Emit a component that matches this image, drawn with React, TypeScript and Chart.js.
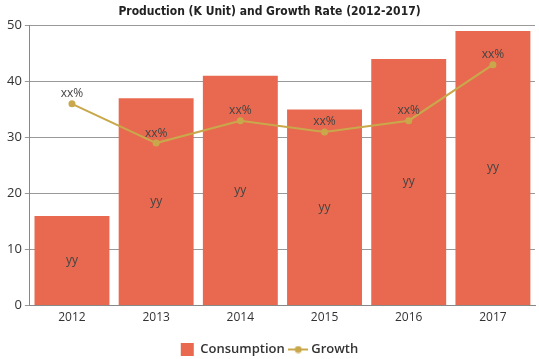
import React, { useEffect, useRef } from "react";
import { Chart, registerables } from "chart.js";

Chart.register(...registerables);

const categories = ["2012", "2013", "2014", "2015", "2016", "2017"];
const consumption = [16, 37, 41, 35, 44, 49];
const growth = [36, 29, 33, 31, 33, 43];
const barLabels = ["yy", "yy", "yy", "yy", "yy", "yy"];
const lineLabels = ["xx%", "xx%", "xx%", "xx%", "xx%", "xx%"];
const yTicks = [0, 10, 20, 30, 40, 50];

const BAR_COLOR = "#E8694F";
const LINE_COLOR = "#C9A84C";

const labelPlugin = {
  id: "valueLabels",
  afterDatasetsDraw(chart: any) {
    const ctx = chart.ctx;
    ctx.save();
    ctx.font = "12px 'Open Sans', sans-serif";
    ctx.fillStyle = "#444";
    ctx.textAlign = "center";
    ctx.textBaseline = "middle";
    const barMeta = chart.getDatasetMeta(0);
    barMeta.data.forEach((el: any, i: number) => {
      const y = (el.y + el.base) / 2;
      ctx.fillText(barLabels[i], el.x, y);
    });
    const lineMeta = chart.getDatasetMeta(1);
    ctx.textBaseline = "bottom";
    lineMeta.data.forEach((el: any, i: number) => {
      ctx.fillText(lineLabels[i], el.x, el.y - 4);
    });
    ctx.restore();
  },
};

function makeLineIcon(): HTMLCanvasElement {
  const c = document.createElement("canvas");
  c.width = 20;
  c.height = 8;
  const g = c.getContext("2d")!;
  g.strokeStyle = LINE_COLOR;
  g.lineWidth = 2;
  g.beginPath();
  g.moveTo(0, 4);
  g.lineTo(20, 4);
  g.stroke();
  g.fillStyle = LINE_COLOR;
  g.beginPath();
  g.arc(10, 4, 3.5, 0, Math.PI * 2);
  g.fill();
  return c;
}

export default function App() {
  const ref = useRef<HTMLCanvasElement>(null);
  useEffect(() => {
    document.body.style.margin = "0";
    const icon = makeLineIcon();
    const chart = new Chart(ref.current!, {
      type: "bar",
      data: {
        labels: categories,
        datasets: [
          {
            type: "bar",
            label: "Consumption",
            data: consumption,
            backgroundColor: BAR_COLOR,
            barPercentage: 0.89,
            categoryPercentage: 1,
            order: 2,
          } as any,
          {
            type: "line",
            label: "Growth",
            data: growth,
            borderColor: LINE_COLOR,
            backgroundColor: LINE_COLOR,
            borderWidth: 2,
            pointRadius: 3.5,
            pointHoverRadius: 3.5,
            pointBackgroundColor: LINE_COLOR,
            pointBorderWidth: 0,
            pointStyle: "circle",
            tension: 0,
            order: 1,
          } as any,
        ],
      },
      options: {
        animation: false,
        responsive: false,
        maintainAspectRatio: false,
        layout: { padding: { left: 4, right: 4, top: 0, bottom: -7 } },
        plugins: {
          title: {
            display: true,
            text: "Production (K Unit) and Growth Rate (2012-2017)",
            font: { family: "'DejaVu Sans Condensed', sans-serif", size: 12, weight: "bold" },
            color: "#222",
            padding: { top: 5, bottom: 6 },
          },
          legend: {
            position: "bottom",
            labels: {
              usePointStyle: true,
              boxHeight: 13,
              padding: 7,
              color: "#333",
              font: { family: "'Open Sans', sans-serif", size: 13, weight: "600" },
              generateLabels: () => [
                {
                  text: "Consumption",
                  fillStyle: BAR_COLOR,
                  strokeStyle: BAR_COLOR,
                  lineWidth: 0,
                  pointStyle: "rect",
                  datasetIndex: 0,
                  hidden: false,
                  fontColor: "#333",
                },
                {
                  text: "Growth",
                  fillStyle: LINE_COLOR,
                  strokeStyle: LINE_COLOR,
                  lineWidth: 0,
                  pointStyle: icon,
                  datasetIndex: 1,
                  hidden: false,
                  fontColor: "#333",
                },
              ],
            },
          },
          tooltip: { enabled: false },
        },
        scales: {
          x: {
            grid: { display: true, drawOnChartArea: false, drawTicks: false },
            border: { display: true, color: "#888" },
            ticks: { color: "#333", padding: 5, font: { family: "'Open Sans', sans-serif", size: 12 } },
            title: { display: true, text: "", font: { size: 5 }, padding: 0 },
          },
          y: {
            min: 0,
            max: 50,
            afterBuildTicks: (axis: any) => {
              axis.ticks = yTicks.map((v) => ({ value: v }));
            },
            grid: { color: "#999", tickLength: 5 },
            border: { display: true, color: "#888" },
            ticks: { color: "#333", font: { family: "'Open Sans', sans-serif", size: 13 }, padding: 3 },
          },
        },
      },
      plugins: [labelPlugin],
    } as any);
    return () => chart.destroy();
  }, []);
  return (
    <div style={{ position: "absolute", left: 0, top: 0, width: 539, height: 359 }}>
      <canvas ref={ref} width={539} height={359} />
    </div>
  );
}
